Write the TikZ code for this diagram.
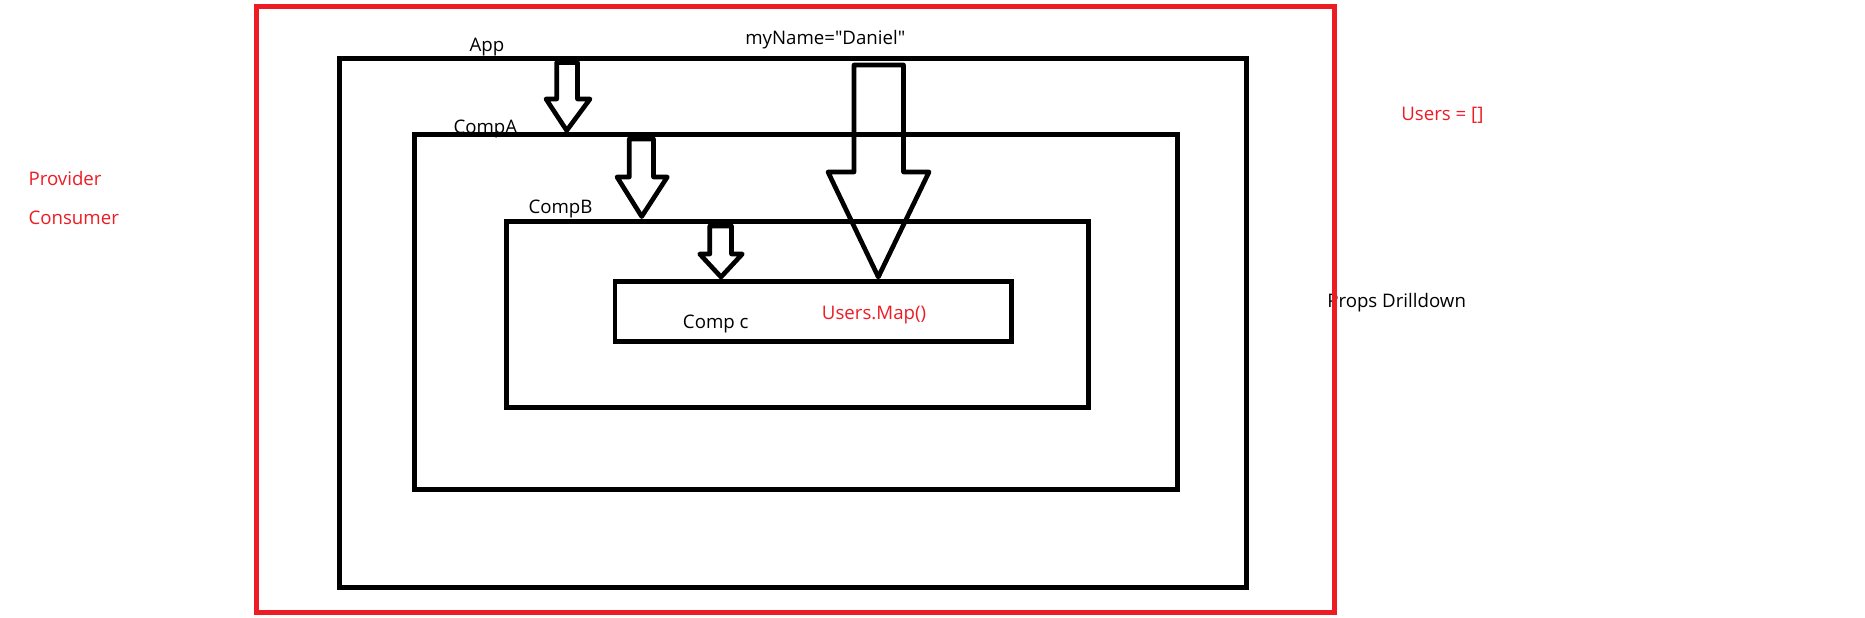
\documentclass[tikz,border=0pt]{standalone}
\usepackage{fontspec}
\setmainfont{Open Sans}
\definecolor{pred}{HTML}{ED1C24}
\tikzset{
  lbl/.style={anchor=base west, inner sep=0pt, font=\fontsize{14pt}{17pt}\selectfont, text=black},
  redlbl/.style={lbl, text=pred},
  compbox/.style={draw=black, line width=3.5pt, line join=miter},
  redbox/.style={draw=pred, line width=3.75pt, line join=miter},
  blockarrow/.style={draw=black, line width=3.5pt, line join=round}
}
\begin{document}
\begin{tikzpicture}[x=0.75pt, y=-0.75pt]
\useasboundingbox (0,0) rectangle (1865,617);
% texts
\node[lbl] (tApp) at (469.3,51.7) {App};
\node[lbl] (tName) at (745,45) {myName=\textquotedbl Daniel\textquotedbl};
\node[lbl] (tA) at (453.3,133.3) {CompA};
\node[lbl] (tB) at (528.3,213.5) {CompB};
\node[lbl] (tC) at (682.7,328.3) {Comp c};
\node[redlbl] (tMap) at (821.7,319) {Users.Map()};
\node[redlbl] (tProv) at (28.3,185) {Provider};
\node[redlbl] (tCons) at (28.3,224) {Consumer};
\node[redlbl] (tUsers) at (1401,120) {Users = []};
\node[lbl] (tProps) at (1327,307) {Props Drilldown};
% boxes
\draw[redbox] (256.5,6.5) rectangle (1334.5,612.5);
\draw[compbox] (339.3,58.3) rectangle (1246.3,587.3);
\draw[compbox] (414.3,134.7) rectangle (1177.3,489.3);
\draw[compbox] (506.3,221.7) rectangle (1088.3,407.3);
\draw[compbox] (615,281.7) rectangle (1011.3,341.3);
% block arrows
\draw[blockarrow] (556.7,62.5) -- (577.5,62.5) -- (577.5,99) -- (590,99) -- (566.7,130.5) -- (546,99) -- (556.7,99) -- cycle;
\draw[blockarrow] (629.3,139) -- (653.5,139) -- (653.5,177) -- (667.3,177) -- (641.7,216.5) -- (617,177) -- (629.3,177) -- cycle;
\draw[blockarrow] (709.8,226) -- (731.5,226) -- (731.5,254) -- (742.3,254) -- (721,277) -- (699.7,254) -- (709.8,254) -- cycle;
\draw[blockarrow] (854,65) -- (903.5,65) -- (903.5,172) -- (929,172) -- (878.3,277) -- (828,172) -- (854,172) -- cycle;
\end{tikzpicture}
\end{document}
